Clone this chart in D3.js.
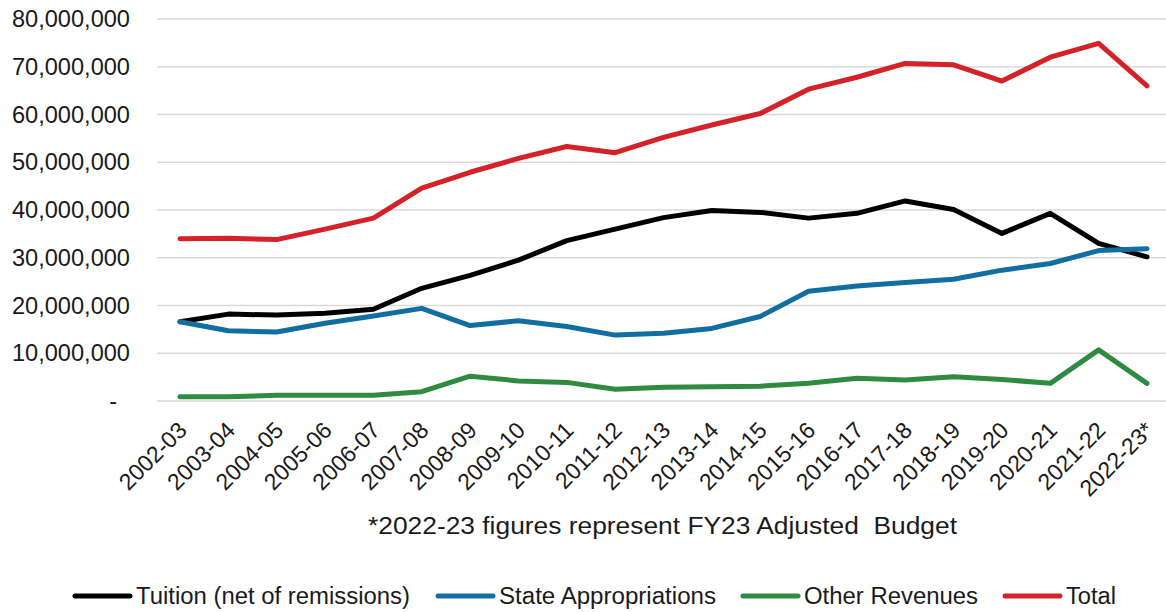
<!DOCTYPE html>
<html>
<head>
<meta charset="utf-8">
<script src="https://cdn.jsdelivr.net/npm/d3@7"></script>
<style>
  html, body { margin: 0; padding: 0; background: #fff; }
  svg { display: block; font-family: "Liberation Sans", Arial, sans-serif; }
</style>
</head>
<body>
<svg id="chart" width="1166" height="612"></svg>
<script>
// Fiscal years
const years = ["2002-03","2003-04","2004-05","2005-06","2006-07","2007-08","2008-09",
  "2009-10","2010-11","2011-12","2012-13","2013-14","2014-15","2015-16","2016-17",
  "2017-18","2018-19","2019-20","2020-21","2021-22","2022-23*"];

// Revenue by source (dollars)
const tuition = [16600000,18200000,18000000,18400000,19200000,23600000,26300000,29500000,
  33600000,36000000,38400000,39900000,39500000,38300000,39300000,41900000,40100000,
  35100000,39300000,33000000,30200000];
const stateApprop = [16600000,14700000,14450000,16300000,17800000,19400000,15800000,16800000,
  15600000,13800000,14200000,15200000,17700000,23000000,24100000,24800000,25500000,
  27400000,28800000,31500000,31900000];
const otherRev = [900000,900000,1200000,1200000,1200000,1950000,5200000,4200000,3900000,
  2450000,2900000,3000000,3100000,3700000,4750000,4400000,5100000,4500000,3700000,
  10700000,3700000];
const total = [34000000,34100000,33800000,36000000,38300000,44600000,47900000,50800000,
  53300000,52000000,55200000,57800000,60200000,65300000,67800000,70700000,70400000,
  67000000,72000000,74900000,66000000];

const yTicks = [0,10000000,20000000,30000000,40000000,50000000,60000000,70000000,80000000];
const footnote = "*2022-23 figures represent FY23 Adjusted  Budget";

const series = [
  { name: "Tuition (net of remissions)", values: tuition, color: "#000000" },
  { name: "State Appropriations", values: stateApprop, color: "#106ea0" },
  { name: "Other Revenues", values: otherRev, color: "#2e8b40" },
  { name: "Total", values: total, color: "#d42229" }
];

const svg = d3.select("#chart");
const fontSize = 23;
const textColor = "#1a1a1a";

const x = d3.scalePoint().domain(years).range([180, 1147]);
const y = d3.scaleLinear().domain([0, 80000000]).range([401, 19]);

// Horizontal gridlines
svg.append("g").selectAll("line").data(yTicks).join("line")
  .attr("x1", 157).attr("x2", 1172)
  .attr("y1", d => y(d)).attr("y2", d => y(d))
  .attr("stroke", "#d9d9d9").attr("stroke-width", 1.6);

// Y axis labels
const fmt = d3.format(",");
const yAxis = svg.append("g").attr("transform", "translate(130,0)")
  .call(d3.axisLeft(y).tickValues(yTicks).tickSize(0).tickPadding(0)
    .tickFormat(d => d === 0 ? "-" : fmt(d)));
yAxis.select(".domain").remove();
yAxis.selectAll("text")
  .attr("font-size", 23.6).attr("fill", textColor)
  .attr("font-family", "Liberation Sans, Arial, sans-serif")
  .attr("dx", d => d === 0 ? -13 : 0);

// X axis labels, rotated
const xAxis = svg.append("g").attr("transform", "translate(0,401)")
  .call(d3.axisBottom(x).tickSize(0).tickPadding(0));
xAxis.select(".domain").remove();
xAxis.selectAll("text")
  .attr("font-size", fontSize).attr("fill", textColor)
  .attr("font-family", "Liberation Sans, Arial, sans-serif")
  .attr("text-anchor", "end")
  .attr("dy", "0.35em")
  .attr("transform", "translate(2,25) rotate(-45)");

// Series lines
const line = d3.line().x((d, i) => x(years[i])).y(d => y(d));
svg.append("g").selectAll("path").data(series).join("path")
  .attr("d", s => line(s.values))
  .attr("fill", "none")
  .attr("stroke", s => s.color)
  .attr("stroke-width", 5)
  .attr("stroke-linejoin", "round")
  .attr("stroke-linecap", "round");

// Footnote
svg.append("text")
  .attr("x", 368).attr("y", 526).attr("dy", "0.35em")
  .attr("font-size", fontSize).attr("fill", textColor)
  .attr("textLength", 589).attr("lengthAdjust", "spacingAndGlyphs")
  .style("white-space", "pre")
  .text(footnote);

// Legend
const legendPos = [75, 438, 743, 1005];
const legendWidths = [274, 217, 174, 50];
const legend = svg.append("g").attr("transform", "translate(0,596)");
series.forEach((s, i) => {
  const g = legend.append("g").attr("transform", `translate(${legendPos[i]},0)`);
  g.append("line").attr("x1", 0).attr("x2", 55).attr("y1", 0).attr("y2", 0)
    .attr("stroke", s.color).attr("stroke-width", 5).attr("stroke-linecap", "round");
  g.append("text").attr("x", 61).attr("dy", "0.35em")
    .attr("font-size", fontSize).attr("fill", textColor)
    .attr("textLength", legendWidths[i]).attr("lengthAdjust", "spacingAndGlyphs")
    .text(s.name);
});
</script>
</body>
</html>
